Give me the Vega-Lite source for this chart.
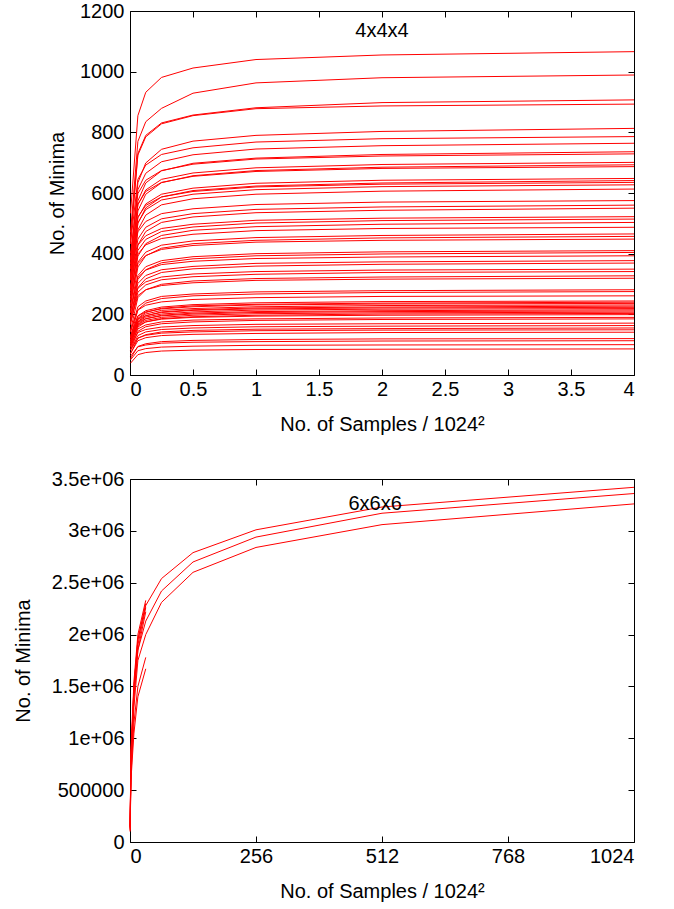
{
"$schema": "https://vega.github.io/schema/vega-lite/v6.json",
"padding": {"left": 12, "top": 0, "right": 40, "bottom": 5},
"spacing": 33,
"config": {
  "font": "Liberation Sans",
  "view": {"stroke": "black", "strokeWidth": 1},
  "axis": {"domain": false, "grid": false, "tickColor": "black", "tickSize": -6, "labelColor": "black", "titleColor": "black", "labelFontSize": 20, "titleFontSize": 20, "titleFontWeight": "normal", "labelPadding": 14, "titlePadding": 12},
  "axisX": {"labelPadding": 10, "titlePadding": 15},
  "axisY": {"labelPadding": 12}
},
"datasets": {
"top": [
{"g":1,"x":0.004,"y":533},{"g":1,"x":0.0625,"y":855},{"g":1,"x":0.125,"y":932},{"g":1,"x":0.25,"y":981},{"g":1,"x":0.5,"y":1012},{"g":1,"x":1,"y":1040},{"g":1,"x":2,"y":1055},{"g":1,"x":4,"y":1066},
{"g":2,"x":0.004,"y":470},{"g":2,"x":0.0625,"y":770},{"g":2,"x":0.125,"y":835},{"g":2,"x":0.25,"y":879},{"g":2,"x":0.5,"y":929},{"g":2,"x":1,"y":963},{"g":2,"x":2,"y":980},{"g":2,"x":4,"y":989},
{"g":3,"x":0.004,"y":450},{"g":3,"x":0.0625,"y":730},{"g":3,"x":0.125,"y":790},{"g":3,"x":0.25,"y":831},{"g":3,"x":0.5,"y":857},{"g":3,"x":1,"y":881},{"g":3,"x":2,"y":898},{"g":3,"x":4,"y":907},
{"g":4,"x":0.004,"y":440},{"g":4,"x":0.0625,"y":725},{"g":4,"x":0.125,"y":785},{"g":4,"x":0.25,"y":828},{"g":4,"x":0.5,"y":855},{"g":4,"x":1,"y":878},{"g":4,"x":2,"y":887},{"g":4,"x":4,"y":893},
{"g":5,"x":0.004,"y":366},{"g":5,"x":0.0625,"y":634},{"g":5,"x":0.125,"y":699},{"g":5,"x":0.25,"y":744},{"g":5,"x":0.5,"y":771},{"g":5,"x":1,"y":790},{"g":5,"x":2,"y":803},{"g":5,"x":4,"y":813},
{"g":6,"x":0.004,"y":432},{"g":6,"x":0.0625,"y":645},{"g":6,"x":0.125,"y":692},{"g":6,"x":0.25,"y":727},{"g":6,"x":0.5,"y":749},{"g":6,"x":1,"y":768},{"g":6,"x":2,"y":779},{"g":6,"x":4,"y":786},
{"g":7,"x":0.004,"y":382},{"g":7,"x":0.0625,"y":611},{"g":7,"x":0.125,"y":665},{"g":7,"x":0.25,"y":703},{"g":7,"x":0.5,"y":726},{"g":7,"x":1,"y":745},{"g":7,"x":2,"y":756},{"g":7,"x":4,"y":764},
{"g":8,"x":0.004,"y":331},{"g":8,"x":0.0625,"y":574},{"g":8,"x":0.125,"y":633},{"g":8,"x":0.25,"y":673},{"g":8,"x":0.5,"y":698},{"g":8,"x":1,"y":715},{"g":8,"x":2,"y":727},{"g":8,"x":4,"y":736},
{"g":9,"x":0.004,"y":401},{"g":9,"x":0.0625,"y":598},{"g":9,"x":0.125,"y":642},{"g":9,"x":0.25,"y":674},{"g":9,"x":0.5,"y":695},{"g":9,"x":1,"y":712},{"g":9,"x":2,"y":722},{"g":9,"x":4,"y":729},
{"g":10,"x":0.004,"y":351},{"g":10,"x":0.0625,"y":561},{"g":10,"x":0.125,"y":610},{"g":10,"x":0.25,"y":645},{"g":10,"x":0.5,"y":666},{"g":10,"x":1,"y":683},{"g":10,"x":2,"y":694},{"g":10,"x":4,"y":701},
{"g":11,"x":0.004,"y":312},{"g":11,"x":0.0625,"y":541},{"g":11,"x":0.125,"y":596},{"g":11,"x":0.25,"y":634},{"g":11,"x":0.5,"y":657},{"g":11,"x":1,"y":674},{"g":11,"x":2,"y":685},{"g":11,"x":4,"y":693},
{"g":12,"x":0.004,"y":378},{"g":12,"x":0.0625,"y":563},{"g":12,"x":0.125,"y":605},{"g":12,"x":0.25,"y":635},{"g":12,"x":0.5,"y":655},{"g":12,"x":1,"y":671},{"g":12,"x":2,"y":681},{"g":12,"x":4,"y":687},
{"g":13,"x":0.004,"y":324},{"g":13,"x":0.0625,"y":518},{"g":13,"x":0.125,"y":564},{"g":13,"x":0.25,"y":596},{"g":13,"x":0.5,"y":616},{"g":13,"x":1,"y":632},{"g":13,"x":2,"y":642},{"g":13,"x":4,"y":648},
{"g":14,"x":0.004,"y":288},{"g":14,"x":0.0625,"y":500},{"g":14,"x":0.125,"y":551},{"g":14,"x":0.25,"y":587},{"g":14,"x":0.5,"y":608},{"g":14,"x":1,"y":623},{"g":14,"x":2,"y":633},{"g":14,"x":4,"y":641},
{"g":15,"x":0.004,"y":349},{"g":15,"x":0.0625,"y":521},{"g":15,"x":0.125,"y":559},{"g":15,"x":0.25,"y":587},{"g":15,"x":0.5,"y":605},{"g":15,"x":1,"y":620},{"g":15,"x":2,"y":629},{"g":15,"x":4,"y":635},
{"g":16,"x":0.004,"y":314},{"g":16,"x":0.0625,"y":502},{"g":16,"x":0.125,"y":545},{"g":16,"x":0.25,"y":577},{"g":16,"x":0.5,"y":596},{"g":16,"x":1,"y":611},{"g":16,"x":2,"y":621},{"g":16,"x":4,"y":627},
{"g":17,"x":0.004,"y":276},{"g":17,"x":0.0625,"y":478},{"g":17,"x":0.125,"y":527},{"g":17,"x":0.25,"y":561},{"g":17,"x":0.5,"y":581},{"g":17,"x":1,"y":596},{"g":17,"x":2,"y":606},{"g":17,"x":4,"y":613},
{"g":18,"x":0.004,"y":316},{"g":18,"x":0.0625,"y":472},{"g":18,"x":0.125,"y":506},{"g":18,"x":0.25,"y":532},{"g":18,"x":0.5,"y":548},{"g":18,"x":1,"y":562},{"g":18,"x":2,"y":570},{"g":18,"x":4,"y":575},
{"g":19,"x":0.004,"y":280},{"g":19,"x":0.0625,"y":448},{"g":19,"x":0.125,"y":487},{"g":19,"x":0.25,"y":515},{"g":19,"x":0.5,"y":532},{"g":19,"x":1,"y":546},{"g":19,"x":2,"y":554},{"g":19,"x":4,"y":560},
{"g":20,"x":0.004,"y":248},{"g":20,"x":0.0625,"y":429},{"g":20,"x":0.125,"y":473},{"g":20,"x":0.25,"y":503},{"g":20,"x":0.5,"y":521},{"g":20,"x":1,"y":535},{"g":20,"x":2,"y":543},{"g":20,"x":4,"y":550},
{"g":21,"x":0.004,"y":287},{"g":21,"x":0.0625,"y":428},{"g":21,"x":0.125,"y":459},{"g":21,"x":0.25,"y":483},{"g":21,"x":0.5,"y":497},{"g":21,"x":1,"y":510},{"g":21,"x":2,"y":517},{"g":21,"x":4,"y":522},
{"g":22,"x":0.004,"y":257},{"g":22,"x":0.0625,"y":411},{"g":22,"x":0.125,"y":447},{"g":22,"x":0.25,"y":473},{"g":22,"x":0.5,"y":488},{"g":22,"x":1,"y":501},{"g":22,"x":2,"y":509},{"g":22,"x":4,"y":514},
{"g":23,"x":0.004,"y":226},{"g":23,"x":0.0625,"y":392},{"g":23,"x":0.125,"y":433},{"g":23,"x":0.25,"y":460},{"g":23,"x":0.5,"y":477},{"g":23,"x":1,"y":489},{"g":23,"x":2,"y":497},{"g":23,"x":4,"y":503},
{"g":24,"x":0.004,"y":268},{"g":24,"x":0.0625,"y":399},{"g":24,"x":0.125,"y":429},{"g":24,"x":0.25,"y":450},{"g":24,"x":0.5,"y":464},{"g":24,"x":1,"y":476},{"g":24,"x":2,"y":483},{"g":24,"x":4,"y":487},
{"g":25,"x":0.004,"y":233},{"g":25,"x":0.0625,"y":372},{"g":25,"x":0.125,"y":405},{"g":25,"x":0.25,"y":428},{"g":25,"x":0.5,"y":442},{"g":25,"x":1,"y":453},{"g":25,"x":2,"y":460},{"g":25,"x":4,"y":465},
{"g":26,"x":0.004,"y":206},{"g":26,"x":0.0625,"y":356},{"g":26,"x":0.125,"y":393},{"g":26,"x":0.25,"y":418},{"g":26,"x":0.5,"y":433},{"g":26,"x":1,"y":444},{"g":26,"x":2,"y":452},{"g":26,"x":4,"y":457},
{"g":27,"x":0.004,"y":246},{"g":27,"x":0.0625,"y":367},{"g":27,"x":0.125,"y":394},{"g":27,"x":0.25,"y":414},{"g":27,"x":0.5,"y":427},{"g":27,"x":1,"y":438},{"g":27,"x":2,"y":444},{"g":27,"x":4,"y":448},
{"g":28,"x":0.004,"y":205},{"g":28,"x":0.0625,"y":328},{"g":28,"x":0.125,"y":357},{"g":28,"x":0.25,"y":377},{"g":28,"x":0.5,"y":390},{"g":28,"x":1,"y":400},{"g":28,"x":2,"y":406},{"g":28,"x":4,"y":410},
{"g":29,"x":0.004,"y":182},{"g":29,"x":0.0625,"y":315},{"g":29,"x":0.125,"y":347},{"g":29,"x":0.25,"y":370},{"g":29,"x":0.5,"y":383},{"g":29,"x":1,"y":393},{"g":29,"x":2,"y":399},{"g":29,"x":4,"y":404},
{"g":30,"x":0.004,"y":216},{"g":30,"x":0.0625,"y":322},{"g":30,"x":0.125,"y":346},{"g":30,"x":0.25,"y":364},{"g":30,"x":0.5,"y":375},{"g":30,"x":1,"y":384},{"g":30,"x":2,"y":389},{"g":30,"x":4,"y":393},
{"g":31,"x":0.004,"y":189},{"g":31,"x":0.0625,"y":302},{"g":31,"x":0.125,"y":328},{"g":31,"x":0.25,"y":347},{"g":31,"x":0.5,"y":358},{"g":31,"x":1,"y":368},{"g":31,"x":2,"y":373},{"g":31,"x":4,"y":377},
{"g":32,"x":0.004,"y":166},{"g":32,"x":0.0625,"y":288},{"g":32,"x":0.125,"y":317},{"g":32,"x":0.25,"y":338},{"g":32,"x":0.5,"y":350},{"g":32,"x":1,"y":359},{"g":32,"x":2,"y":365},{"g":32,"x":4,"y":369},
{"g":33,"x":0.004,"y":192},{"g":33,"x":0.0625,"y":286},{"g":33,"x":0.125,"y":307},{"g":33,"x":0.25,"y":323},{"g":33,"x":0.5,"y":333},{"g":33,"x":1,"y":341},{"g":33,"x":2,"y":346},{"g":33,"x":4,"y":349},
{"g":34,"x":0.004,"y":171},{"g":34,"x":0.0625,"y":273},{"g":34,"x":0.125,"y":297},{"g":34,"x":0.25,"y":314},{"g":34,"x":0.5,"y":324},{"g":34,"x":1,"y":332},{"g":34,"x":2,"y":338},{"g":34,"x":4,"y":341},
{"g":35,"x":0.004,"y":147},{"g":35,"x":0.0625,"y":255},{"g":35,"x":0.125,"y":281},{"g":35,"x":0.25,"y":299},{"g":35,"x":0.5,"y":310},{"g":35,"x":1,"y":318},{"g":35,"x":2,"y":323},{"g":35,"x":4,"y":327},
{"g":36,"x":0.004,"y":175},{"g":36,"x":0.0625,"y":262},{"g":36,"x":0.125,"y":281},{"g":36,"x":0.25,"y":295},{"g":36,"x":0.5,"y":304},{"g":36,"x":1,"y":312},{"g":36,"x":2,"y":316},{"g":36,"x":4,"y":319},
{"g":37,"x":0.004,"y":141},{"g":37,"x":0.0625,"y":225},{"g":37,"x":0.125,"y":244},{"g":37,"x":0.25,"y":259},{"g":37,"x":0.5,"y":267},{"g":37,"x":1,"y":274},{"g":37,"x":2,"y":278},{"g":37,"x":4,"y":281},
{"g":38,"x":0.004,"y":124},{"g":38,"x":0.0625,"y":215},{"g":38,"x":0.125,"y":237},{"g":38,"x":0.25,"y":252},{"g":38,"x":0.5,"y":261},{"g":38,"x":1,"y":267},{"g":38,"x":2,"y":272},{"g":38,"x":4,"y":275},
{"g":39,"x":0.004,"y":144},{"g":39,"x":0.0625,"y":214},{"g":39,"x":0.125,"y":230},{"g":39,"x":0.25,"y":241},{"g":39,"x":0.5,"y":249},{"g":39,"x":1,"y":255},{"g":39,"x":2,"y":259},{"g":39,"x":4,"y":261},
{"g":40,"x":0.004,"y":122},{"g":40,"x":0.0625,"y":195},{"g":40,"x":0.125,"y":212},{"g":40,"x":0.25,"y":224},{"g":40,"x":0.5,"y":232},{"g":40,"x":1,"y":238},{"g":40,"x":2,"y":242},{"g":40,"x":4,"y":244},
{"g":41,"x":0.004,"y":108},{"g":41,"x":0.0625,"y":187},{"g":41,"x":0.125,"y":206},{"g":41,"x":0.25,"y":220},{"g":41,"x":0.5,"y":228},{"g":41,"x":1,"y":233},{"g":41,"x":2,"y":237},{"g":41,"x":4,"y":240},
{"g":42,"x":0.004,"y":130},{"g":42,"x":0.0625,"y":194},{"g":42,"x":0.125,"y":208},{"g":42,"x":0.25,"y":218},{"g":42,"x":0.5,"y":225},{"g":42,"x":1,"y":231},{"g":42,"x":2,"y":234},{"g":42,"x":4,"y":236},
{"g":43,"x":0.004,"y":116},{"g":43,"x":0.0625,"y":185},{"g":43,"x":0.125,"y":201},{"g":43,"x":0.25,"y":213},{"g":43,"x":0.5,"y":219},{"g":43,"x":1,"y":225},{"g":43,"x":2,"y":229},{"g":43,"x":4,"y":231},
{"g":44,"x":0.004,"y":102},{"g":44,"x":0.0625,"y":177},{"g":44,"x":0.125,"y":195},{"g":44,"x":0.25,"y":208},{"g":44,"x":0.5,"y":215},{"g":44,"x":1,"y":221},{"g":44,"x":2,"y":224},{"g":44,"x":4,"y":227},
{"g":45,"x":0.004,"y":123},{"g":45,"x":0.0625,"y":183},{"g":45,"x":0.125,"y":196},{"g":45,"x":0.25,"y":206},{"g":45,"x":0.5,"y":213},{"g":45,"x":1,"y":218},{"g":45,"x":2,"y":221},{"g":45,"x":4,"y":223},
{"g":46,"x":0.004,"y":110},{"g":46,"x":0.0625,"y":175},{"g":46,"x":0.125,"y":191},{"g":46,"x":0.25,"y":201},{"g":46,"x":0.5,"y":208},{"g":46,"x":1,"y":214},{"g":46,"x":2,"y":217},{"g":46,"x":4,"y":219},
{"g":47,"x":0.004,"y":97},{"g":47,"x":0.0625,"y":168},{"g":47,"x":0.125,"y":185},{"g":47,"x":0.25,"y":197},{"g":47,"x":0.5,"y":204},{"g":47,"x":1,"y":209},{"g":47,"x":2,"y":212},{"g":47,"x":4,"y":215},
{"g":48,"x":0.004,"y":116},{"g":48,"x":0.0625,"y":173},{"g":48,"x":0.125,"y":186},{"g":48,"x":0.25,"y":195},{"g":48,"x":0.5,"y":201},{"g":48,"x":1,"y":206},{"g":48,"x":2,"y":209},{"g":48,"x":4,"y":211},
{"g":49,"x":0.004,"y":104},{"g":49,"x":0.0625,"y":166},{"g":49,"x":0.125,"y":180},{"g":49,"x":0.25,"y":190},{"g":49,"x":0.5,"y":197},{"g":49,"x":1,"y":202},{"g":49,"x":2,"y":205},{"g":49,"x":4,"y":207},
{"g":50,"x":0.004,"y":91},{"g":50,"x":0.0625,"y":158},{"g":50,"x":0.125,"y":175},{"g":50,"x":0.25,"y":186},{"g":50,"x":0.5,"y":192},{"g":50,"x":1,"y":197},{"g":50,"x":2,"y":201},{"g":50,"x":4,"y":203},
{"g":51,"x":0.004,"y":109},{"g":51,"x":0.0625,"y":163},{"g":51,"x":0.125,"y":175},{"g":51,"x":0.25,"y":184},{"g":51,"x":0.5,"y":190},{"g":51,"x":1,"y":194},{"g":51,"x":2,"y":197},{"g":51,"x":4,"y":199},
{"g":52,"x":0.004,"y":95},{"g":52,"x":0.0625,"y":152},{"g":52,"x":0.125,"y":165},{"g":52,"x":0.25,"y":175},{"g":52,"x":0.5,"y":181},{"g":52,"x":1,"y":185},{"g":52,"x":2,"y":188},{"g":52,"x":4,"y":190},
{"g":53,"x":0.004,"y":83},{"g":53,"x":0.0625,"y":144},{"g":53,"x":0.125,"y":159},{"g":53,"x":0.25,"y":169},{"g":53,"x":0.5,"y":175},{"g":53,"x":1,"y":180},{"g":53,"x":2,"y":183},{"g":53,"x":4,"y":185},
{"g":54,"x":0.004,"y":94},{"g":54,"x":0.0625,"y":140},{"g":54,"x":0.125,"y":150},{"g":54,"x":0.25,"y":158},{"g":54,"x":0.5,"y":163},{"g":54,"x":1,"y":167},{"g":54,"x":2,"y":169},{"g":54,"x":4,"y":171},
{"g":55,"x":0.004,"y":82},{"g":55,"x":0.0625,"y":130},{"g":55,"x":0.125,"y":142},{"g":55,"x":0.25,"y":150},{"g":55,"x":0.5,"y":155},{"g":55,"x":1,"y":159},{"g":55,"x":2,"y":161},{"g":55,"x":4,"y":163},
{"g":56,"x":0.004,"y":70},{"g":56,"x":0.0625,"y":121},{"g":56,"x":0.125,"y":133},{"g":56,"x":0.25,"y":142},{"g":56,"x":0.5,"y":147},{"g":56,"x":1,"y":151},{"g":56,"x":2,"y":153},{"g":56,"x":4,"y":155},
{"g":57,"x":0.004,"y":82},{"g":57,"x":0.0625,"y":122},{"g":57,"x":0.125,"y":131},{"g":57,"x":0.25,"y":138},{"g":57,"x":0.5,"y":142},{"g":57,"x":1,"y":146},{"g":57,"x":2,"y":148},{"g":57,"x":4,"y":149},
{"g":58,"x":0.004,"y":71},{"g":58,"x":0.0625,"y":113},{"g":58,"x":0.125,"y":123},{"g":58,"x":0.25,"y":130},{"g":58,"x":0.5,"y":134},{"g":58,"x":1,"y":137},{"g":58,"x":2,"y":140},{"g":58,"x":4,"y":141},
{"g":59,"x":0.004,"y":54},{"g":59,"x":0.0625,"y":94},{"g":59,"x":0.125,"y":103},{"g":59,"x":0.25,"y":110},{"g":59,"x":0.5,"y":114},{"g":59,"x":1,"y":117},{"g":59,"x":2,"y":119},{"g":59,"x":4,"y":120},
{"g":60,"x":0.004,"y":62},{"g":60,"x":0.0625,"y":93},{"g":60,"x":0.125,"y":99},{"g":60,"x":0.25,"y":105},{"g":60,"x":0.5,"y":108},{"g":60,"x":1,"y":110},{"g":60,"x":2,"y":112},{"g":60,"x":4,"y":113},
{"g":61,"x":0.004,"y":50},{"g":61,"x":0.0625,"y":80},{"g":61,"x":0.125,"y":87},{"g":61,"x":0.25,"y":92},{"g":61,"x":0.5,"y":95},{"g":61,"x":1,"y":98},{"g":61,"x":2,"y":99},{"g":61,"x":4,"y":100},
{"g":62,"x":0.004,"y":39},{"g":62,"x":0.0625,"y":67},{"g":62,"x":0.125,"y":74},{"g":62,"x":0.25,"y":79},{"g":62,"x":0.5,"y":82},{"g":62,"x":1,"y":84},{"g":62,"x":2,"y":85},{"g":62,"x":4,"y":86}
],
"bot": [
{"g":1,"x":0.25,"y":150000},{"g":1,"x":2,"y":800000},{"g":1,"x":8,"y":1500000},{"g":1,"x":16,"y":1950000},{"g":1,"x":32,"y":2280000},{"g":1,"x":64,"y":2540000},{"g":1,"x":128,"y":2790000},{"g":1,"x":256,"y":3010000},{"g":1,"x":512,"y":3230000},{"g":1,"x":1024,"y":3420000},
{"g":2,"x":0.25,"y":140000},{"g":2,"x":2,"y":750000},{"g":2,"x":8,"y":1400000},{"g":2,"x":16,"y":1850000},{"g":2,"x":32,"y":2130000},{"g":2,"x":64,"y":2420000},{"g":2,"x":128,"y":2700000},{"g":2,"x":256,"y":2940000},{"g":2,"x":512,"y":3170000},{"g":2,"x":1024,"y":3360000},
{"g":3,"x":0.25,"y":120000},{"g":3,"x":2,"y":700000},{"g":3,"x":8,"y":1300000},{"g":3,"x":16,"y":1750000},{"g":3,"x":32,"y":2000000},{"g":3,"x":64,"y":2310000},{"g":3,"x":128,"y":2600000},{"g":3,"x":256,"y":2840000},{"g":3,"x":512,"y":3060000},{"g":3,"x":1024,"y":3260000},
{"g":4,"x":0.25,"y":160000},{"g":4,"x":2,"y":900000},{"g":4,"x":8,"y":1550000},{"g":4,"x":16,"y":2000000},{"g":4,"x":32,"y":2330000},
{"g":5,"x":0.25,"y":150000},{"g":5,"x":2,"y":850000},{"g":5,"x":8,"y":1500000},{"g":5,"x":16,"y":1950000},{"g":5,"x":32,"y":2300000},
{"g":6,"x":0.25,"y":140000},{"g":6,"x":2,"y":820000},{"g":6,"x":8,"y":1450000},{"g":6,"x":16,"y":1900000},{"g":6,"x":32,"y":2260000},
{"g":7,"x":0.25,"y":130000},{"g":7,"x":2,"y":780000},{"g":7,"x":8,"y":1400000},{"g":7,"x":16,"y":1850000},{"g":7,"x":32,"y":2220000},
{"g":8,"x":0.25,"y":110000},{"g":8,"x":2,"y":650000},{"g":8,"x":8,"y":1150000},{"g":8,"x":16,"y":1500000},{"g":8,"x":32,"y":1780000},
{"g":9,"x":0.25,"y":100000},{"g":9,"x":2,"y":600000},{"g":9,"x":8,"y":1050000},{"g":9,"x":16,"y":1400000},{"g":9,"x":32,"y":1670000}
]
},
"vconcat": [
{
  "width": 504, "height": 364,
  "resolve": {"axis": {"x": "independent", "y": "independent"}},
  "layer": [
    {
      "data": {"name": "top"},
      "mark": {"type": "line", "color": "#ff0000", "strokeWidth": 1},
      "encoding": {
        "x": {"field": "x", "type": "quantitative", "scale": {"domain": [0, 4], "nice": false, "zero": false}, "axis": {"orient": "bottom", "values": [0, 0.5, 1, 1.5, 2, 2.5, 3, 3.5, 4], "format": "~g", "title": "No. of Samples / 1024²"}},
        "y": {"field": "y", "type": "quantitative", "scale": {"domain": [0, 1200], "nice": false}, "axis": {"orient": "left", "values": [0, 200, 400, 600, 800, 1000, 1200], "format": "d", "title": "No. of Minima", "titlePadding": 12}},
        "detail": {"field": "g", "type": "nominal"}
      }
    },
    {
      "data": {"values": [{"x": 2, "y": 1135, "t": "4x4x4"}]},
      "mark": {"type": "text", "fontSize": 20, "color": "black", "align": "center", "baseline": "middle"},
      "encoding": {
        "x": {"field": "x", "type": "quantitative", "scale": {"domain": [0, 4], "nice": false, "zero": false}, "axis": {"orient": "top", "values": [0, 0.5, 1, 1.5, 2, 2.5, 3, 3.5, 4], "labels": false, "title": null}},
        "y": {"field": "y", "type": "quantitative", "scale": {"domain": [0, 1200], "nice": false}, "axis": {"orient": "right", "values": [0, 200, 400, 600, 800, 1000, 1200], "labels": false, "title": null}},
        "text": {"field": "t"}
      }
    }
  ]
},
{
  "width": 504, "height": 363,
  "resolve": {"axis": {"x": "independent", "y": "independent"}},
  "layer": [
    {
      "data": {"name": "bot"},
      "mark": {"type": "line", "color": "#ff0000", "strokeWidth": 1},
      "encoding": {
        "x": {"field": "x", "type": "quantitative", "scale": {"domain": [0, 1024], "nice": false, "zero": false}, "axis": {"orient": "bottom", "values": [0, 256, 512, 768, 1024], "format": "d", "title": "No. of Samples / 1024²"}},
        "y": {"field": "y", "type": "quantitative", "scale": {"domain": [0, 3500000], "nice": false}, "axis": {"orient": "left", "values": [0, 500000, 1000000, 1500000, 2000000, 2500000, 3000000, 3500000], "labelExpr": "datum.value >= 1000000 ? replace(format(datum.value, '~e'), 'e+', 'e+0') : format(datum.value, 'd')", "title": "No. of Minima", "titlePadding": 18}},
        "detail": {"field": "g", "type": "nominal"}
      }
    },
    {
      "data": {"values": [{"x": 498, "y": 3260000, "t": "6x6x6"}]},
      "mark": {"type": "text", "fontSize": 20, "color": "black", "align": "center", "baseline": "middle"},
      "encoding": {
        "x": {"field": "x", "type": "quantitative", "scale": {"domain": [0, 1024], "nice": false, "zero": false}, "axis": {"orient": "top", "values": [0, 256, 512, 768, 1024], "labels": false, "title": null}},
        "y": {"field": "y", "type": "quantitative", "scale": {"domain": [0, 3500000], "nice": false}, "axis": {"orient": "right", "values": [0, 500000, 1000000, 1500000, 2000000, 2500000, 3000000, 3500000], "labels": false, "title": null}},
        "text": {"field": "t"}
      }
    }
  ]
}
]
}
